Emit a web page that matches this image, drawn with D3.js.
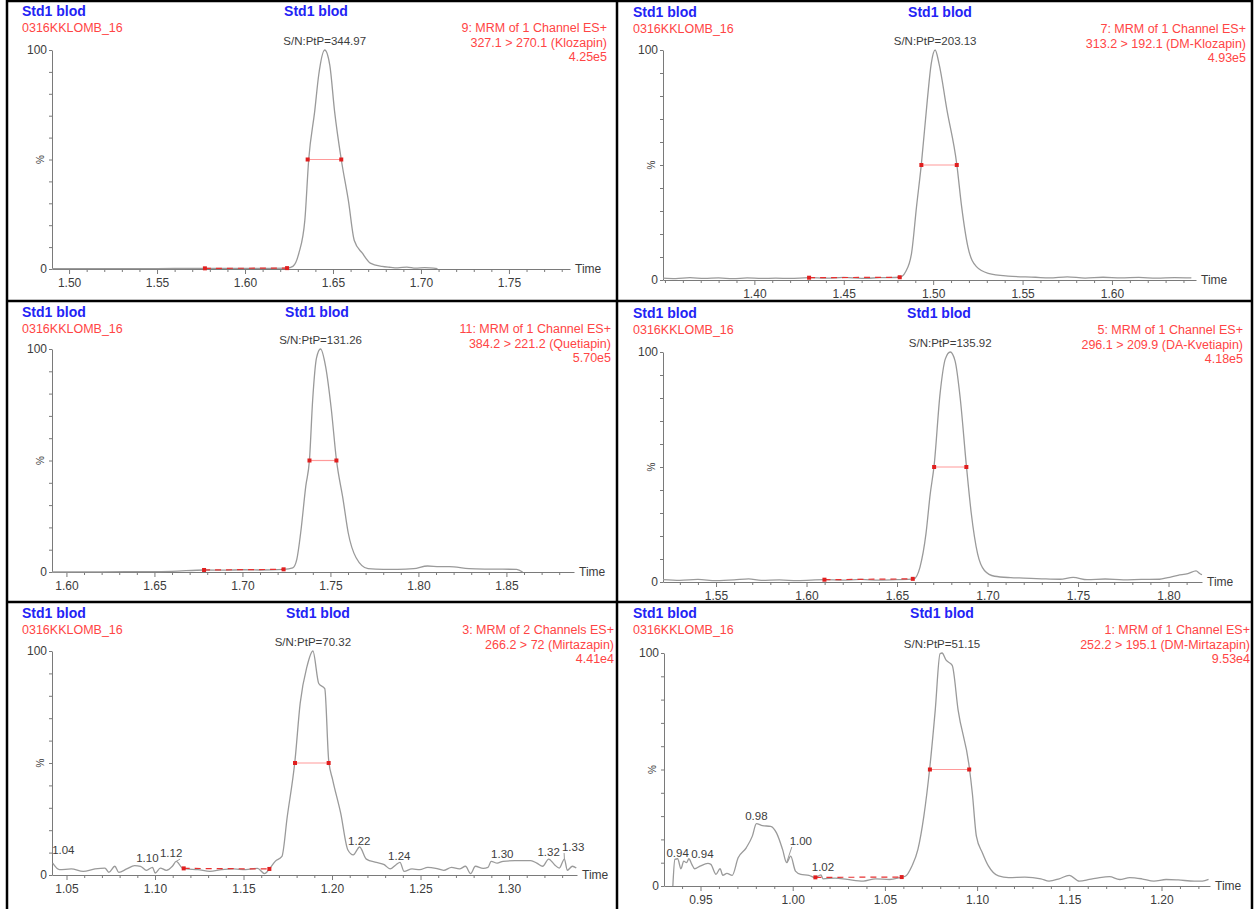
<!DOCTYPE html>
<html>
<head>
<meta charset="utf-8">
<script src="https://cdn.jsdelivr.net/npm/d3@7"></script>
<style>
  body { margin: 0; background: #fff; }
  svg { display: block; font-family: "Liberation Sans", Arial, sans-serif; }
</style>
</head>
<body>
<svg id="chart" width="1254" height="909"></svg>
<script>
// ---- header texts ----
const sampleTitle = "Std1 blod";
const sampleFile = "0316KKLOMB_16";
const channelTitles = [
  "9: MRM of 1 Channel ES+",
  "7: MRM of 1 Channel ES+",
  "11: MRM of 1 Channel ES+",
  "5: MRM of 1 Channel ES+",
  "3: MRM of 2 Channels ES+",
  "1: MRM of 1 Channel ES+"
];
const transitions = [
  "327.1 > 270.1 (Klozapin)",
  "313.2 > 192.1 (DM-Klozapin)",
  "384.2 > 221.2 (Quetiapin)",
  "296.1 > 209.9 (DA-Kvetiapin)",
  "266.2 > 72 (Mirtazapin)",
  "252.2 > 195.1 (DM-Mirtazapin)"
];
const intensities = ["4.25e5", "4.93e5", "5.70e5", "4.18e5", "4.41e4", "9.53e4"];
const snRatios = ["344.97", "203.13", "131.26", "135.92", "70.32", "51.15"];

// ---- axis ranges (min) ----
const timeRanges = [
  [1.4903, 1.7847],
  [1.3489, 1.6470],
  [1.5918, 1.8884],
  [1.5207, 1.8185],
  [1.0418, 1.3384],
  [0.9302, 1.2263]
];

// ---- traces: time (min) and intensity (%) ----
const klozapinTime = [1.4903, 1.510, 1.530, 1.550, 1.5772, 1.590, 1.600, 1.610, 1.6239, 1.6272, 1.6306, 1.634, 1.6362, 1.6396, 1.6419, 1.6453, 1.6482, 1.6509, 1.6547, 1.6588, 1.6621, 1.6667, 1.6712, 1.6779, 1.682, 1.6869, 1.692, 1.697, 1.702, 1.7094];
const klozapinPct = [0.2, 0.2, 0.2, 0.2, 0.3, 0.3, 0.3, 0.3, 0.4, 1.2, 7.2, 22.3, 50, 72, 88.7, 100, 93, 72, 50, 31, 13, 7.2, 2.7, 1.2, 0.8, 0.5, 0.9, 0.4, 0.6, 0.2];

const dmKlozapinTime = [1.3489, 1.356, 1.364, 1.372, 1.380, 1.388, 1.396, 1.404, 1.412, 1.420, 1.4306, 1.440, 1.450, 1.460, 1.470, 1.4813, 1.4846, 1.4879, 1.4907, 1.4934, 1.4967, 1.4989, 1.5011, 1.5033, 1.5077, 1.5132, 1.5159, 1.5194, 1.5242, 1.5308, 1.5419, 1.5573, 1.565, 1.575, 1.585, 1.595, 1.605, 1.615, 1.625, 1.635, 1.6444];
const dmKlozapinPct = [0.8, 0.6, 1.0, 0.7, 0.9, 0.6, 0.9, 0.7, 0.8, 0.7, 1.0, 0.8, 1.1, 0.7, 1.0, 1.2, 3.6, 11.6, 31.9, 50.4, 78, 94, 100, 94, 74, 50.4, 32, 14.5, 5.8, 2.9, 1.7, 1.2, 0.9, 1.4, 0.8, 1.2, 0.9, 1.1, 0.8, 1.0, 0.9];

const quetiapinTime = [1.5918, 1.62, 1.65, 1.66, 1.6782, 1.69, 1.70, 1.71, 1.7234, 1.7286, 1.7309, 1.7331, 1.736, 1.7381, 1.7399, 1.7421, 1.7444, 1.7473, 1.7505, 1.7534, 1.7572, 1.7601, 1.7646, 1.7714, 1.78, 1.7883, 1.7973, 1.8052, 1.812, 1.8176, 1.8288, 1.84, 1.8558, 1.8592];
const quetiapinPct = [0, 0.1, 0.2, 0.3, 0.9, 0.8, 1.0, 0.9, 1.2, 1.9, 5.7, 17.6, 38.5, 50.4, 77, 96, 100, 92, 73, 50.4, 32.5, 17.6, 6.4, 1.5, 1.2, 1.2, 1.5, 2.7, 2.4, 2.4, 1.5, 1.3, 1.2, 0];

const daKvetiapinTime = [1.5207, 1.53, 1.54, 1.55, 1.56, 1.568, 1.575, 1.585, 1.595, 1.6099, 1.62, 1.63, 1.64, 1.65, 1.6593, 1.6627, 1.666, 1.6683, 1.6705, 1.6738, 1.6767, 1.6794, 1.6821, 1.6849, 1.6883, 1.691, 1.6945, 1.6983, 1.7039, 1.7128, 1.72, 1.73, 1.74, 1.7473, 1.755, 1.765, 1.775, 1.785, 1.795, 1.7996, 1.8052, 1.8107, 1.8152, 1.8174, 1.8185];
const daKvetiapinPct = [1.0, 0.7, 1.1, 0.6, 0.9, 1.4, 0.7, 0.9, 0.6, 1.0, 0.8, 1.1, 0.8, 1.0, 1.4, 6.5, 21, 38, 50.7, 82, 97, 100, 96, 80, 50.7, 30, 12.3, 5, 2.5, 1.9, 1.7, 1.4, 1.2, 2.0, 1.0, 1.3, 0.9, 1.1, 1.2, 1.9, 2.9, 3.6, 4.8, 3.6, 3.2];

const mirtazapinTime = [1.0422, 1.046, 1.0527, 1.0594, 1.0661, 1.0717, 1.0739, 1.0773, 1.0795, 1.084, 1.0885, 1.0918, 1.0952, 1.0986, 1.1001, 1.103, 1.1064, 1.1098, 1.112, 1.1154, 1.1176, 1.1243, 1.131, 1.1377, 1.1444, 1.1512, 1.1579, 1.1619, 1.1646, 1.1679, 1.1717, 1.1747, 1.1791, 1.182, 1.1858, 1.1892, 1.1925, 1.1959, 1.1981, 1.2004, 1.2049, 1.2089, 1.212, 1.2156, 1.2194, 1.225, 1.2295, 1.2328, 1.2362, 1.2384, 1.2407, 1.2452, 1.2496, 1.2541, 1.2586, 1.2631, 1.2675, 1.272, 1.2754, 1.2783, 1.281, 1.2854, 1.2881, 1.2899, 1.2933, 1.2966, 1.3033, 1.3123, 1.3157, 1.319, 1.3224, 1.3257, 1.3284, 1.3313, 1.3329, 1.3358, 1.338];
const mirtazapinPct = [5.3, 2.4, 2.7, 1.6, 2.7, 3.1, 1.2, 3.9, 1.2, 2.7, 4.2, 3.9, 2.1, 3.4, 0.9, 3.1, 2.1, 3.9, 6.1, 3.1, 2.7, 2.4, 1.6, 2.4, 2.7, 2.4, 3.0, 0.6, 2.7, 6.1, 8.3, 26, 51.3, 76.6, 92.9, 100, 85.5, 83.2, 51.3, 42.4, 27.6, 11.3, 9, 12.5, 7.1, 5.6, 4.6, 2.7, 4.6, 5.6, 1.6, 2.7, 2.4, 3.4, 3.0, 2.1, 3.4, 2.7, 3.9, 0.6, 3.9, 3.0, 3.4, 6.1, 5.3, 6.1, 6.4, 6.4, 5.3, 3.9, 7.1, 4.6, 3.1, 7.1, 2.1, 3.9, 3.1];

const dmMirtazapinTime = [0.935, 0.9361, 0.9376, 0.9394, 0.9409, 0.9424, 0.9437, 0.9453, 0.9468, 0.9497, 0.954, 0.9556, 0.9584, 0.9606, 0.9621, 0.9643, 0.9672, 0.9704, 0.9748, 0.9781, 0.9803, 0.9836, 0.988, 0.9912, 0.9945, 0.9967, 0.9989, 1.0015, 1.0044, 1.0088, 1.012, 1.0153, 1.0164, 1.023, 1.0296, 1.0383, 1.0449, 1.0525, 1.058, 1.0613, 1.0646, 1.0679, 1.0711, 1.0744, 1.0773, 1.0799, 1.081, 1.0832, 1.0865, 1.0897, 1.0957, 1.0974, 1.0996, 1.1029, 1.1062, 1.1116, 1.1171, 1.1259, 1.1346, 1.139, 1.1445, 1.15, 1.1554, 1.1609, 1.1664, 1.1718, 1.1773, 1.1828, 1.1893, 1.1959, 1.2025, 1.209, 1.2178, 1.2222, 1.2255];
const dmMirtazapinPct = [0, 11.4, 11.7, 7.4, 10.7, 10, 11.7, 9.3, 7.4, 8.5, 9.7, 9.3, 5, 7.4, 4.6, 5.4, 4.6, 12.1, 16.4, 21.4, 26.8, 25.9, 25.6, 22.8, 15.7, 10, 12.8, 6.4, 5, 4.6, 3.6, 4.8, 3.1, 3.4, 2.8, 2.1, 3.1, 2.8, 3.6, 4.3, 8.5, 15.7, 29.9, 51.3, 75.5, 99.7, 100, 96.9, 94.7, 75.5, 51.3, 39.9, 21.4, 14.2, 8.5, 4.3, 3.6, 3.8, 3.1, 2.1, 3.1, 4.6, 2.1, 2.8, 3.6, 4.0, 2.8, 3.6, 3.1, 2.1, 2.8, 2.6, 2.1, 2.1, 2.8];

// ---- integration marks: half-height width and baseline start/end ----
const fwhmTimes = [
  [1.6356, 1.6547], [1.4934, 1.5132], [1.7381, 1.7534],
  [1.6705, 1.6883], [1.1791, 1.1981], [1.0744, 1.0957]
];
const baselineTimes = [
  [1.5772, 1.6239], [1.4306, 1.4813], [1.6782, 1.7234],
  [1.6099, 1.6587], [1.1162, 1.1646], [1.0123, 1.0591]
];

// ---- peak labels (only the two bottom panels) ----
const mirtazapinLabels = ["1.04", "1.10", "1.12", "1.22", "1.24", "1.30", "1.32", "1.33"];
const mirtazapinLabelTime = [1.0482, 1.0957, 1.1091, 1.2154, 1.2380, 1.2962, 1.3224, 1.3362];
const mirtazapinLabelPct = [9.4, 5.8, 8.0, 13.4, 6.7, 7.6, 8.5, 10.7];
const mirtazapinLeaderTime = [null, null, 1.1120, null, null, null, null, 1.3313];
const dmMirtazapinLabels = ["0.94", "0.94", "0.98", "1.00", "1.02"];
const dmMirtazapinLabelTime = [0.9376, 0.9510, 0.9803, 1.0044, 1.0164];
const dmMirtazapinLabelPct = [12.4, 12.0, 28.3, 17.6, 6.4];
const dmMirtazapinLeaderTime = [null, null, null, 0.9967, null];

// ---- layout of the six panels (pixels) ----
const layout = [
  { left: 22, top: 0, right: 607, stdX: 316, x0: 52, x1: 570, y0: 50, y1: 269 },
  { left: 633, top: 1, right: 1246, stdX: 940, x0: 663, x1: 1196, y0: 50, y1: 280 },
  { left: 22, top: 301, right: 611, stdX: 317, x0: 52, x1: 574, y0: 349, y1: 572 },
  { left: 633, top: 302, right: 1243, stdX: 939, x0: 663, x1: 1202, y0: 352, y1: 582 },
  { left: 22, top: 602, right: 614, stdX: 318, x0: 52, x1: 577, y0: 651, y1: 875 },
  { left: 633, top: 602, right: 1250, stdX: 942, x0: 664, x1: 1210, y0: 653, y1: 886 }
];

const traces = [
  [klozapinTime, klozapinPct],
  [dmKlozapinTime, dmKlozapinPct],
  [quetiapinTime, quetiapinPct],
  [daKvetiapinTime, daKvetiapinPct],
  [mirtazapinTime, mirtazapinPct],
  [dmMirtazapinTime, dmMirtazapinPct]
];
const peakLabels = [null, null, null, null,
  [mirtazapinLabels, mirtazapinLabelTime, mirtazapinLabelPct, mirtazapinLeaderTime],
  [dmMirtazapinLabels, dmMirtazapinLabelTime, dmMirtazapinLabelPct, dmMirtazapinLeaderTime]];

const svg = d3.select("#chart");
svg.append("rect").attr("width", 1254).attr("height", 909).attr("fill", "#fff");

const BLUE = "#2323f5";
const RED = "#ff4545";
const GREY_TEXT = "#3c3c3c";
const TRACE = "#9a9a9a";
const AXIS = "#7a7a7a";

const valueAt = (times, pct, t) => {
  const i = d3.bisectLeft(times, t);
  if (i <= 0) return pct[0];
  if (i >= times.length) return pct[pct.length - 1];
  const f = (t - times[i - 1]) / (times[i] - times[i - 1]);
  return pct[i - 1] + f * (pct[i] - pct[i - 1]);
};

const drawPanel = (i) => {
  const p = layout[i];
  const [times, pct] = traces[i];
  const x = d3.scaleLinear().domain(timeRanges[i]).range([p.x0, p.x1]);
  const y = d3.scaleLinear().domain([0, 100]).range([p.y1, p.y0]);
  const g = svg.append("g");

  // header
  g.append("text").attr("x", p.left).attr("y", p.top + 16)
    .attr("fill", BLUE).attr("font-weight", "bold").attr("font-size", 14)
    .text(sampleTitle);
  g.append("text").attr("x", p.stdX).attr("y", p.top + 16)
    .attr("text-anchor", "middle")
    .attr("fill", BLUE).attr("font-weight", "bold").attr("font-size", 14)
    .text(sampleTitle);
  g.append("text").attr("x", p.left).attr("y", p.top + 32)
    .attr("fill", RED).attr("font-size", 12.5).text(sampleFile);
  [channelTitles[i], transitions[i], intensities[i]].forEach((line, k) => {
    g.append("text").attr("x", p.right).attr("y", p.top + 32 + k * 14.5)
      .attr("text-anchor", "end").attr("fill", RED).attr("font-size", 12.5)
      .text(line);
  });

  // x axis: minor ticks every 0.01, labelled ticks every 0.05
  // (a tick sitting right on the axis start gets no label)
  const k0 = Math.ceil(timeRanges[i][0] * 100 - 1e-6);
  const k1 = Math.floor(timeRanges[i][1] * 100 + 1e-6);
  const all = d3.range(k0, k1 + 1).map((k) => k / 100);
  const isMajor = (t) => Math.round(t * 100) % 5 === 0 && x(t) - p.x0 > 5;
  const minor = all.filter((t) => !isMajor(t));
  const major = all.filter(isMajor);

  const xMinor = g.append("g").attr("transform", `translate(0,${p.y1})`)
    .call(d3.axisBottom(x).tickValues(minor).tickSize(3).tickSizeOuter(0).tickFormat(""));
  const xMajor = g.append("g").attr("transform", `translate(0,${p.y1})`)
    .call(d3.axisBottom(x).tickValues(major).tickSize(5).tickSizeOuter(0)
      .tickPadding(4).tickFormat(d3.format(".2f")));
  xMajor.select(".domain").remove();

  const yAxis = g.append("g").attr("transform", `translate(${p.x0},0)`)
    .call(d3.axisLeft(y).tickValues(d3.range(0, 101, 10)).tickSize(3).tickSizeOuter(0)
      .tickPadding(2).tickFormat((d) => (d === 0 || d === 100 ? d : "")));

  [xMinor, xMajor, yAxis].forEach((a) => {
    a.attr("font-family", null).attr("font-size", 12);
    a.selectAll("path, line").attr("stroke", AXIS);
    a.selectAll("text").attr("fill", GREY_TEXT);
  });

  g.append("text").attr("x", p.x1 + 5).attr("y", p.y1 + 4)
    .attr("fill", GREY_TEXT).attr("font-size", 12).text("Time");
  g.append("text")
    .attr("transform", `translate(${p.x0 - 8},${y(50)}) rotate(-90)`)
    .attr("text-anchor", "middle").attr("fill", GREY_TEXT).attr("font-size", 10)
    .text("%");

  // trace
  const line = d3.line().x((d) => x(d[0])).y((d) => y(d[1]));
  g.append("path").datum(times.map((t, k) => [t, pct[k]]))
    .attr("d", line.curve(d3.curveMonotoneX)).attr("fill", "none")
    .attr("stroke", TRACE).attr("stroke-width", 1.3);
  line.curve(d3.curveLinear);

  // baseline of the integrated peak
  const base = baselineTimes[i].map((t) => [t, valueAt(times, pct, t)]);
  g.append("path").datum(base).attr("d", line).attr("fill", "none")
    .attr("stroke", "#e83030").attr("stroke-width", 1.2).attr("stroke-dasharray", "6,5");
  // half height width
  const half = fwhmTimes[i].map((t) => [t, 50]);
  g.append("path").datum(half).attr("d", line).attr("fill", "none")
    .attr("stroke", "#ff9a9a").attr("stroke-width", 1.2);
  g.selectAll(".mark").data(base.concat(half)).enter().append("rect")
    .attr("x", (d) => x(d[0]) - 2).attr("y", (d) => y(d[1]) - 2)
    .attr("width", 4).attr("height", 4).attr("fill", "#e01f1f");

  // S/N at apex
  const apex = d3.maxIndex(pct);
  g.append("text").attr("x", x(times[apex])).attr("y", p.y0 - 5)
    .attr("text-anchor", "middle").attr("fill", GREY_TEXT).attr("font-size", 11.5)
    .text("S/N:PtP=" + snRatios[i]);

  // peak labels, some with a short leader down to the trace
  if (peakLabels[i]) {
    const [txt, lt, lp, leader] = peakLabels[i];
    g.selectAll(".peak-label").data(txt).enter().append("text")
      .attr("x", (d, k) => x(lt[k])).attr("y", (d, k) => y(lp[k]))
      .attr("text-anchor", "middle").attr("fill", GREY_TEXT).attr("font-size", 11.5)
      .text((d) => d);
    leader.forEach((t, k) => {
      if (t === null) return;
      const lx = x(lt[k]) + (t < lt[k] ? -9 : 9);
      g.append("line")
        .attr("x1", lx).attr("y1", y(lp[k]) + 2)
        .attr("x2", x(t)).attr("y2", y(valueAt(times, pct, t)))
        .attr("stroke", TRACE).attr("stroke-width", 1);
    });
  }
};

d3.range(6).forEach(drawPanel);

// frame and dividers
const frame = svg.append("g").attr("stroke", "#000").attr("stroke-width", 2.5).attr("fill", "none");
frame.append("line").attr("x1", 7).attr("y1", 1).attr("x2", 1253).attr("y2", 1);
frame.append("line").attr("x1", 7).attr("y1", 0).attr("x2", 7).attr("y2", 909);
frame.append("line").attr("x1", 1252).attr("y1", 0).attr("x2", 1252).attr("y2", 909);
frame.append("line").attr("x1", 617).attr("y1", 0).attr("x2", 617).attr("y2", 909);
frame.append("line").attr("x1", 7).attr("y1", 301).attr("x2", 1253).attr("y2", 301);
frame.append("line").attr("x1", 7).attr("y1", 602).attr("x2", 1253).attr("y2", 602);
</script>
</body>
</html>
